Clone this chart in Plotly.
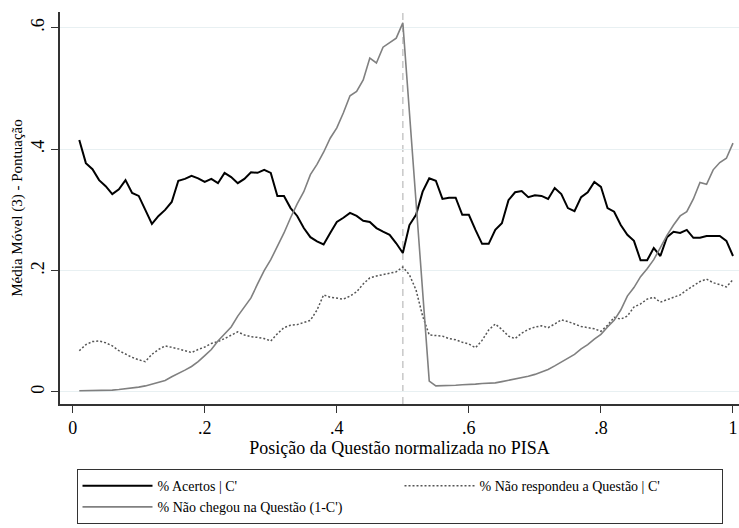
import plotly.graph_objects as go

# Question position (normalized), step 0.01
positions = [round(0.01 * i, 2) for i in range(1, 101)]

# % Acertos | C'
acertos = [
    0.415, 0.377, 0.367, 0.349, 0.339, 0.326, 0.334, 0.349, 0.328, 0.323,
    0.300, 0.277, 0.290, 0.300, 0.313, 0.348, 0.351, 0.356, 0.352, 0.346,
    0.351, 0.344, 0.361, 0.354, 0.344, 0.351, 0.362, 0.361, 0.366, 0.361,
    0.323, 0.323, 0.303, 0.290, 0.270, 0.255, 0.248, 0.243, 0.262, 0.280,
    0.287, 0.295, 0.290, 0.282, 0.280, 0.270, 0.264, 0.259, 0.245, 0.229,
    0.275, 0.292, 0.330, 0.352, 0.348, 0.318, 0.320, 0.320, 0.292, 0.292,
    0.267, 0.244, 0.244, 0.267, 0.278, 0.316, 0.329, 0.331, 0.321, 0.324,
    0.323, 0.318, 0.336, 0.326, 0.303, 0.298, 0.321, 0.329, 0.346, 0.338,
    0.303, 0.297, 0.275, 0.259, 0.249, 0.217, 0.217, 0.237, 0.224, 0.255,
    0.264, 0.262, 0.267, 0.254, 0.254, 0.257, 0.257, 0.257, 0.249, 0.224,
]

# % Não respondeu a Questão | C'
nao_respondeu = [
    0.068, 0.078, 0.083, 0.084, 0.081, 0.076, 0.068, 0.062, 0.057, 0.053,
    0.050, 0.062, 0.070, 0.076, 0.074, 0.071, 0.068, 0.065, 0.070, 0.074,
    0.080, 0.083, 0.088, 0.093, 0.099, 0.094, 0.091, 0.090, 0.088, 0.084,
    0.096, 0.106, 0.110, 0.111, 0.115, 0.118, 0.135, 0.160, 0.156, 0.154,
    0.153, 0.158, 0.165, 0.178, 0.188, 0.191, 0.193, 0.196, 0.198, 0.206,
    0.193, 0.168, 0.125, 0.094, 0.093, 0.092, 0.088, 0.086, 0.082, 0.079,
    0.073, 0.085, 0.102, 0.112, 0.103, 0.092, 0.088, 0.097, 0.103, 0.107,
    0.109, 0.106, 0.112, 0.119, 0.116, 0.112, 0.108, 0.106, 0.104, 0.100,
    0.110, 0.123, 0.120, 0.125, 0.140, 0.145, 0.153, 0.156, 0.148, 0.152,
    0.156, 0.160, 0.168, 0.175, 0.182, 0.186, 0.180, 0.177, 0.173, 0.185,
]

# % Não chegou na Questão (1-C')  (no observations between 0.50 and 0.54)
nao_chegou = [
    0.002, 0.002, 0.002, 0.002, 0.003, 0.003, 0.004, 0.005, 0.006, 0.008,
    0.010, 0.013, 0.016, 0.019, 0.025, 0.030, 0.036, 0.042, 0.050, 0.060,
    0.070, 0.084, 0.095, 0.107, 0.125, 0.140, 0.155, 0.178, 0.200, 0.218,
    0.240, 0.262, 0.287, 0.310, 0.330, 0.358, 0.375, 0.395, 0.418, 0.435,
    0.460, 0.488, 0.495, 0.514, 0.550, 0.542, 0.568, 0.575, 0.583, 0.608,
    None, None, None, 0.018, 0.010, 0.010, 0.011, 0.011, 0.012, 0.012,
    0.013, 0.014, 0.014, 0.015, 0.017, 0.019, 0.021, 0.023, 0.026, 0.029,
    0.033, 0.037, 0.043, 0.049, 0.056, 0.062, 0.071, 0.078, 0.087, 0.095,
    0.107, 0.118, 0.135, 0.158, 0.172, 0.190, 0.203, 0.218, 0.238, 0.258,
    0.275, 0.290, 0.297, 0.318, 0.345, 0.342, 0.366, 0.378, 0.385, 0.410,
]

x_tickvals = [0, 0.2, 0.4, 0.6, 0.8, 1]
x_ticktext = ["0", ".2", ".4", ".6", ".8", "1"]
y_tickvals = [0, 0.2, 0.4, 0.6]
y_ticktext = ["0", ".2", ".4", ".6"]
cutoff = 0.5

FONT = "'Liberation Serif', 'Times New Roman', Times, serif"

fig = go.Figure()
fig.add_trace(go.Scatter(
    x=positions, y=acertos, mode="lines", name="% Acertos | C'",
    line=dict(color="#000000", width=2),
))
fig.add_trace(go.Scatter(
    x=positions, y=nao_respondeu, mode="lines", name="% Não respondeu a Questão | C'",
    line=dict(color="#555555", width=1.5, dash="2px,2px"),
))
fig.add_trace(go.Scatter(
    x=positions, y=nao_chegou, mode="lines", name="% Não chegou na Questão (1-C')",
    line=dict(color="#808080", width=1.6), connectgaps=True,
))

fig.add_vline(x=cutoff, line=dict(color="#c8c8c8", width=1.5, dash="7px,5px"), layer="below")

fig.update_layout(
    width=739, height=528,
    margin=dict(l=60, r=0, t=12, b=124, autoexpand=False),
    paper_bgcolor="white", plot_bgcolor="white",
    font=dict(family=FONT, color="#000000"),
    showlegend=True,
    legend=dict(
        orientation="h",
        x=0.5, xanchor="center",
        y=-0.166, yanchor="top",
        bordercolor="#333333", borderwidth=1,
        font=dict(family=FONT, size=14, color="#000000"),
        itemwidth=70,
        entrywidth=237,
        traceorder="normal",
        tracegroupgap=0,
    ),
)

fig.update_xaxes(
    range=[-0.0192, 1.0091],
    tickvals=x_tickvals, ticktext=x_ticktext,
    tickfont=dict(family=FONT, size=18),
    ticks="outside", ticklen=7, tickwidth=1.2, tickcolor="#333333",
    ticklabeloverflow="allow",
    showline=True, linecolor="#333333", linewidth=1.5,
    showgrid=False, zeroline=False,
    title=dict(text="Posição da Questão normalizada no PISA",
               font=dict(family=FONT, size=18), standoff=0),
)
fig.update_yaxes(
    range=[-0.0198, 0.626],
    tickvals=y_tickvals, ticktext=y_ticktext, tickangle=-90,
    tickfont=dict(family=FONT, size=18),
    ticks="outside", ticklen=7, tickwidth=1.2, tickcolor="#333333",
    showline=True, linecolor="#333333", linewidth=1.5,
    showgrid=True, gridcolor="#e8f0f2", gridwidth=1.2,
    zeroline=False,
    title=dict(text="Média Móvel (3) - Pontuação",
               font=dict(family=FONT, size=15), standoff=2),
)

fig.write_html(
    "out.html",
    config={"displayModeBar": False},
    post_script="document.body.style.margin='0';document.body.style.padding='0';",
)
